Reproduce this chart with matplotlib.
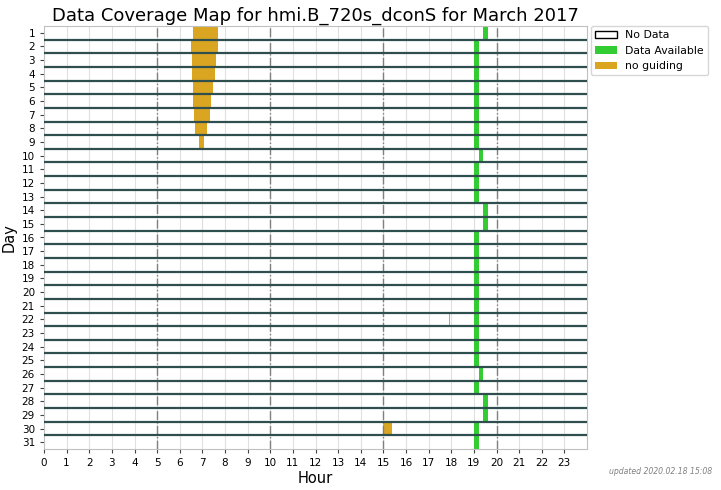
import matplotlib
matplotlib.use("Agg")
import matplotlib.pyplot as plt
from matplotlib.patches import Patch

# Days of the month
days = list(range(1, 32))

# Data available segments (hour start, hour end) per day
green_start = [19.4, 19.0, 19.0, 19.0, 19.0, 19.0, 19.0, 19.0, 19.0, 19.22,
               19.0, 19.0, 19.0, 19.4, 19.4, 19.0, 19.0, 19.0, 19.0, 19.0,
               19.0, 19.0, 19.0, 19.0, 19.0, 19.22, 19.0, 19.4, 19.4, 19.0,
               19.0]
green_end = [19.62, 19.24, 19.24, 19.24, 19.24, 19.24, 19.24, 19.24, 19.24, 19.42,
             19.24, 19.24, 19.24, 19.62, 19.62, 19.24, 19.24, 19.24, 19.24, 19.24,
             19.24, 19.24, 19.24, 19.24, 19.24, 19.42, 19.24, 19.62, 19.62, 19.24,
             19.24]

# "no guiding" segments
guide_days = [1, 2, 3, 4, 5, 6, 7, 8, 9, 22, 30]
guide_start = [6.57, 6.50, 6.52, 6.53, 6.57, 6.59, 6.64, 6.68, 6.84, 17.88, 15.0]
guide_end = [7.69, 7.67, 7.61, 7.55, 7.49, 7.40, 7.32, 7.22, 7.05, 17.93, 15.38]

hours = list(range(0, 24))

fig = plt.figure(figsize=(7.21, 4.90), dpi=100)
ax = fig.add_axes([44 / 721, 41 / 490, 543 / 721, 423 / 490])

# light hour grid
for h in hours[1:]:
    ax.axvline(h, color="#e0e0e0", lw=0.8, zorder=0)

ax.barh(days, [e - s for s, e in zip(green_start, green_end)], left=green_start,
        height=1.0, color="#33cc33", zorder=2)
ax.barh(guide_days, [e - s for s, e in zip(guide_start, guide_end)], left=guide_start,
        height=1.0, color="#daa520", zorder=2)

# dash-dot markers every 5 hours
for h in [5, 10, 15, 20]:
    ax.axvline(h, color="#808080", lw=1.0, ls="-.", zorder=3)

# row separators
for d in days[:-1]:
    ax.axhline(d + 0.5, color="#2f4f4f", lw=1.6, zorder=4)

ax.set_xlim(0, 24)
ax.set_ylim(31.5, 0.5)
ax.set_xticks(hours)
ax.set_yticks(days)
ax.tick_params(labelsize=7.5, color="#444444", length=3)
for s in ax.spines.values():
    s.set_color("#c0c0c0")

ax.set_title("Data Coverage Map for hmi.B_720s_dconS for March 2017", fontsize=13, pad=4)
ax.set_xlabel("Hour", fontsize=10.5, labelpad=2)
ax.set_ylabel("Day", fontsize=10.5, labelpad=4)

handles = [Patch(facecolor="white", edgecolor="black", label="No Data"),
           Patch(facecolor="#33cc33", label="Data Available"),
           Patch(facecolor="#daa520", label="no guiding")]
ax.legend(handles=handles, loc="upper left", bbox_to_anchor=(1.007, 1.0),
          fontsize=7.8, borderaxespad=0.0)

fig.text(0.988, 0.028, "updated 2020.02.18 15:08", ha="right", va="bottom",
         fontsize=5.6, style="italic", color="#808080")

fig.savefig("out.png", dpi=100)
